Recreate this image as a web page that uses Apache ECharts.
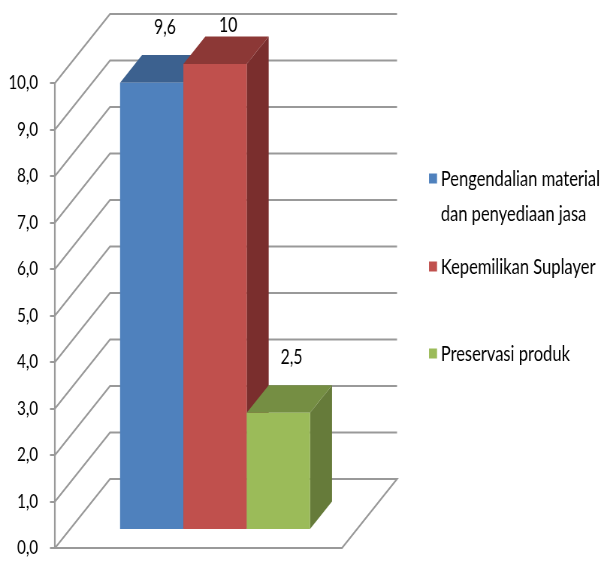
<!DOCTYPE html>
<html>
<head>
<meta charset="utf-8">
<script src="https://cdn.jsdelivr.net/npm/echarts@6/dist/echarts.min.js"></script>
<style>
  html, body { margin: 0; padding: 0; background: #fff; overflow: hidden; }
  /* the reference is horizontally squeezed, so draw wide and squeeze the whole chart */
  #chart { width: 800px; height: 565px; transform: scaleX(0.75125); transform-origin: 0 0; }
</style>
</head>
<body>
<div id="chart"></div>
<script>
// data
const categories = ['Pengendalian material\ndan penyediaan jasa', 'Kepemilikan Suplayer', 'Preservasi produk'];
const values = [9.6, 10, 2.5];
const yTicks = [0, 1, 2, 3, 4, 5, 6, 7, 8, 9, 10];

// faces: front, top, side
const faceColors = [
    ['#4f81bd', '#3c618f', '#30507a'],
    ['#c0504d', '#8c3836', '#7a2e2d'],
    ['#9bbb59', '#758e43', '#667b3a']
];

const SX = 601 / 800;         // horizontal squeeze applied by css
const FONT = "Lato, 'Open Sans', sans-serif";
const DEPTH = [55 / SX, -69]; // floor depth vector in px
const BAR_FRONT = 0.275;      // depth where bar front sits
const BAR_DEPTH = 0.4;        // bar depth fraction
const BAR_START = 0.174;      // offset of first bar inside the band
const BAR_W = 0.2206;         // bar width as fraction of band
const GRID_COLOR = '#999999';

function fmt(v) {
    return String(v).replace('.', ',');
}

const chart = echarts.init(document.getElementById('chart'));

function renderGrid(params, api) {
    const v = api.value(1);
    const p = api.coord([0, v]);
    const band = api.size([1, 0])[0];
    const x0 = p[0] - band / 2;
    const x1 = p[0] + band / 2;
    const y = p[1];
    const lineStyle = { stroke: GRID_COLOR, lineWidth: 2, fill: null };
    if (v === 0) {
        return {
            type: 'polygon',
            shape: { points: [[x0, y], [x1, y], [x1 + DEPTH[0], y + DEPTH[1]], [x0 + DEPTH[0], y + DEPTH[1]]] },
            style: lineStyle,
            z2: 1
        };
    }
    return {
        type: 'polyline',
        shape: { points: [[x0, y], [x0 + DEPTH[0], y + DEPTH[1]], [x1 + DEPTH[0], y + DEPTH[1]]] },
        style: lineStyle,
        z2: 1
    };
}

function makeBarRenderer(i) {
    return function (params, api) {
        const val = api.value(1);
        const base = api.coord([0, 0]);
        const top = api.coord([0, val]);
        const band = api.size([1, 0])[0];
        const bandStart = base[0] - band / 2;
        const xl = bandStart + (BAR_START + i * BAR_W) * band + BAR_FRONT * DEPTH[0];
        const xr = xl + BAR_W * band;
        const yb = base[1] + BAR_FRONT * DEPTH[1];
        const yt = top[1] + BAR_FRONT * DEPTH[1];
        const dx = BAR_DEPTH * DEPTH[0];
        const dy = BAR_DEPTH * DEPTH[1];
        const c = faceColors[i];
        let ly = yt + dy - 28;
        if (ly < 25) ly = 25;
        return {
            type: 'group',
            children: [
                {
                    type: 'polygon',
                    shape: { points: [[xr, yt], [xr + dx, yt + dy], [xr + dx, yb + dy], [xr, yb]] },
                    style: { fill: c[2] }
                },
                {
                    type: 'polygon',
                    shape: { points: [[xl, yt], [xr, yt], [xr + dx, yt + dy], [xl + dx, yt + dy]] },
                    style: { fill: c[1] }
                },
                {
                    type: 'rect',
                    shape: { x: xl, y: yt, width: xr - xl, height: yb - yt },
                    style: { fill: c[0] }
                },
                {
                    type: 'text',
                    x: (xl + xr) / 2 + dx * 0.6,
                    y: ly,
                    style: {
                        text: fmt(val),
                        fill: '#000',
                        font: '21px ' + FONT,
                        align: 'center',
                        verticalAlign: 'middle'
                    }
                }
            ]
        };
    };
}

const series = [{
    type: 'custom',
    name: 'grid',
    silent: true,
    clip: false,
    renderItem: renderGrid,
    data: yTicks.map(v => [0, v]),
    z: 1
}];

categories.forEach(function (name, i) {
    series.push({
        type: 'custom',
        name: name,
        clip: false,
        renderItem: makeBarRenderer(i),
        itemStyle: { color: faceColors[i][0] },
        data: [[0, values[i]]],
        z: 2
    });
});

const legendText = { color: '#000', fontSize: 22, fontFamily: FONT, lineHeight: 35 };

const legendBase = {
    orient: 'vertical',
    left: 429 / SX,
    padding: 0,
    itemWidth: 8 / SX,
    itemHeight: 10,
    itemGap: 0,
    icon: 'rect',
    selectedMode: false,
    textStyle: legendText,
    // blank line first so the icon lines up with the first text line
    formatter: function (name) {
        return name.indexOf('\n') >= 0 ? ' \n' + name : name;
    }
};

const option = {
    animation: false,
    backgroundColor: '#fff',
    grid: { left: 55 / SX, right: 800 - 342 / SX, top: 83, bottom: 17 },
    xAxis: {
        type: 'category',
        data: [''],
        axisLine: { show: false },
        axisTick: { show: false },
        axisLabel: { show: false }
    },
    yAxis: {
        type: 'value',
        min: 0,
        max: 10,
        interval: 1,
        axisLine: { show: true, lineStyle: { color: GRID_COLOR, width: 2.2 } },
        axisTick: { show: true, length: 5 / SX, lineStyle: { color: GRID_COLOR, width: 2 } },
        splitLine: { show: false },
        axisLabel: {
            margin: 17 / SX,
            color: '#000',
            fontSize: 20,
            fontFamily: FONT,
            formatter: function (v) { return v.toFixed(1).replace('.', ','); }
        }
    },
    legend: [
        Object.assign({}, legendBase, { top: 178 - 52, data: [categories[0]] }),
        Object.assign({}, legendBase, { top: 267 - 18, data: [categories[1]] }),
        Object.assign({}, legendBase, { top: 354 - 18, data: [categories[2]] })
    ],
    series: series
};

chart.setOption(option);
</script>
</body>
</html>
